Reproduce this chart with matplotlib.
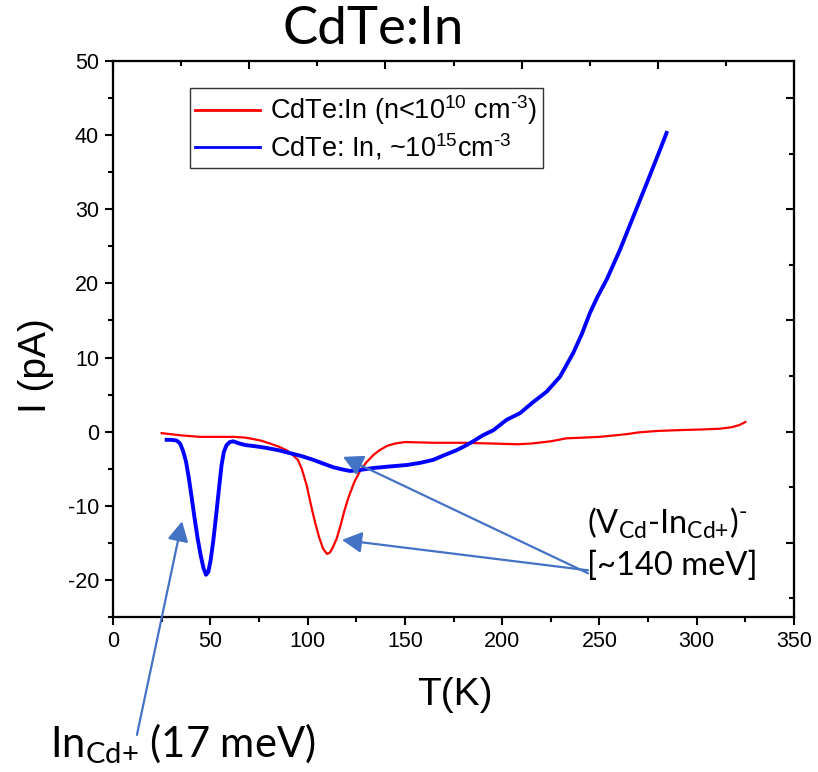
import matplotlib
matplotlib.use("Agg")
import matplotlib.pyplot as plt
from matplotlib.ticker import MultipleLocator

plt.rcParams["axes.unicode_minus"] = False

# red trace: CdTe:In (n<1e10 cm^-3)
red_T = [25, 35, 44.7, 55, 61.8, 68, 72.1, 76, 80.7, 85, 89.2, 92.6, 95, 97, 99.5,
         102, 104, 106, 108, 110, 111.5, 113, 115, 117, 119, 121, 124, 127, 130,
         134, 137, 141, 145, 150, 165, 180, 195, 208, 215, 225, 233, 242, 250,
         258, 265, 270, 280, 290, 303, 312, 318, 322, 325]
red_I = [-0.2, -0.5, -0.7, -0.7, -0.7, -0.8, -1.0, -1.2, -1.6, -2.0, -2.5, -3.2, -3.8,
         -5.0, -7.2, -10.2, -12.4, -14.3, -15.8, -16.5, -16.3, -15.6, -14.4, -12.6,
         -10.6, -8.9, -6.8, -5.3, -4.2, -3.1, -2.5, -1.9, -1.6, -1.4, -1.5, -1.5,
         -1.6, -1.7, -1.6, -1.3, -0.9, -0.8, -0.7, -0.5, -0.3, -0.1, 0.1, 0.2, 0.3,
         0.4, 0.6, 0.9, 1.3]

# blue trace: CdTe:In ~1e15 cm^-3
blue_T = [27.6, 30, 32.7, 34.5, 36, 37.5, 39, 40.5, 42, 43.5, 45, 46.5, 47.8, 49,
          50.2, 51.5, 53, 54.5, 55.8, 57, 58.4, 60, 61.8, 65, 68, 74, 79, 85, 91,
          97, 102.9, 108, 113.2, 118, 121.8, 126, 133.8, 142, 150.9, 158, 164.6,
          170, 176.6, 181.8, 185.1, 190, 195.5, 202.3, 209.2, 216, 222.9, 229.7,
          236.5, 241, 245.1, 249, 253.7, 260.5, 267.4, 274.3, 281.1, 284.5]
blue_I = [-1.1, -1.1, -1.2, -1.6, -2.6, -4.0, -6.3, -9.0, -11.8, -14.4, -16.6, -18.4,
          -19.3, -18.9, -17.3, -14.8, -11.3, -7.6, -4.5, -2.7, -1.8, -1.4, -1.3,
          -1.6, -1.8, -2.0, -2.2, -2.5, -2.9, -3.3, -3.8, -4.3, -4.8, -5.1, -5.3,
          -5.2, -4.9, -4.7, -4.5, -4.2, -3.8, -3.2, -2.5, -1.8, -1.3, -0.5, 0.2,
          1.6, 2.5, 4.0, 5.4, 7.4, 10.6, 13.2, 16.0, 18.2, 20.5, 24.5, 29.0, 33.5,
          38.0, 40.3]

HY = "\u2010"  # plain hyphen glyph inside mathtext
labels = ["CdTe:In (n<10$^{\\mathregular{10}}$ cm$^{\\mathregular{" + HY + "3}}$)",
          "CdTe: In, ~10$^{\\mathregular{15}}$cm$^{\\mathregular{" + HY + "3}}$"]

# arrows: (tip T, tip I, tail T, tail I)
arrow_tip_T = [35.5, 118.2, 117.7]
arrow_tip_I = [-12.1, -3.4, -14.6]
arrow_tail_T = [12.3, 244.1, 244.1]
arrow_tail_I = [-40.9, -19.1, -18.7]

W, H = 818, 772
fig = plt.figure(figsize=(W / 100, H / 100), dpi=100)
ax = fig.add_axes([113 / W, 1 - 617 / H, (794 - 113) / W, (617 - 61) / H])

ax.plot(red_T, red_I, color="#ff0000", lw=1.6, label=labels[0])
ax.plot(blue_T, blue_I, color="#0000ff", lw=2.8, label=labels[1])

ax.set_xlim(0, 350)
ax.set_ylim(-25, 50)
ax.xaxis.set_major_locator(MultipleLocator(50))
ax.xaxis.set_minor_locator(MultipleLocator(25))
ax.yaxis.set_major_locator(MultipleLocator(10))
ax.yaxis.set_minor_locator(MultipleLocator(5))
ax.tick_params(which="major", direction="out", length=6, width=1.5,
               labelsize=15.5, pad=4)
ax.tick_params(which="minor", direction="out", length=3.5, width=1.5)
for lab in ax.get_xticklabels() + ax.get_yticklabels():
    lab.set_family("Liberation Sans")
for s in ax.spines.values():
    s.set_linewidth(1.5)

# mirrored frame with its own tick spacing (top/right)
axt = ax.twiny()
axt.set_xlim(0, 350)
axt.xaxis.set_major_locator(MultipleLocator(70))
axt.xaxis.set_minor_locator(MultipleLocator(35))
axt.tick_params(axis="x", which="both", direction="in", labeltop=False, width=1.5)
axt.tick_params(axis="x", which="major", length=6)
axt.tick_params(axis="x", which="minor", length=3.5)
axr = ax.twinx()
axr.set_ylim(-25, 50)
axr.yaxis.set_major_locator(MultipleLocator(15))
axr.yaxis.set_minor_locator(MultipleLocator(7.5))
axr.tick_params(axis="y", which="both", direction="in", labelright=False, width=1.5)
axr.tick_params(axis="y", which="major", length=6)
axr.tick_params(axis="y", which="minor", length=3.5)
for a in (axt, axr):
    for s in a.spines.values():
        s.set_linewidth(1.5)

ax.set_xlabel("T(K)", family="Liberation Sans", fontsize=28, va="center")
ax.xaxis.set_label_coords(0.502, -0.140)
ax.set_ylabel("I (pA)", family="Liberation Sans", fontsize=28, va="center")
ax.yaxis.set_label_coords(-0.113, 0.453)

leg = ax.legend(loc="upper left", bbox_to_anchor=(0.113, 0.951), borderaxespad=0,
                prop={"family": "Liberation Sans", "size": 19.5}, frameon=True,
                fancybox=False, edgecolor="black", handlelength=2.4,
                handletextpad=0.35, borderpad=0.2, labelspacing=0.15)
leg.get_frame().set_linewidth(1.0)
for h in leg.legend_handles:
    h.set_linewidth(2.0)
leg.set_zorder(5)

arrow_col = "#4472C4"
for tx, ty, sx, sy in zip(arrow_tip_T, arrow_tip_I, arrow_tail_T, arrow_tail_I):
    axr.annotate("", xy=(tx, ty), xytext=(sx, sy), xycoords=ax.transData,
                 textcoords=ax.transData, annotation_clip=False,
                 arrowprops=dict(arrowstyle="-|>,head_length=0.6,head_width=0.32",
                                 mutation_scale=20, color=arrow_col, lw=1.6,
                                 shrinkA=0, shrinkB=0))

ann_font = "Lato"
fig.text(587 / W, 1 - 533 / H,
         "(V$_{\\mathregular{Cd}}$-In$_{\\mathregular{Cd{+}}}$)$^{\\mathregular{" + HY + "}}$",
         family=ann_font, fontsize=23.5, va="baseline", ha="left")
fig.text(587 / W, 1 - 575 / H, "[~140 meV]", family=ann_font, fontsize=23.5,
         va="baseline", ha="left")
fig.text(50 / W, 1 - 757 / H, "In$_{\\mathregular{Cd{+}}}$ (17 meV)", family=ann_font,
         fontsize=30, va="baseline", ha="left")

fig.text(373 / W, 1 - 30 / H, "CdTe:In", family=ann_font, fontsize=38,
         ha="center", va="center")

fig.savefig("out.png", dpi=100)
